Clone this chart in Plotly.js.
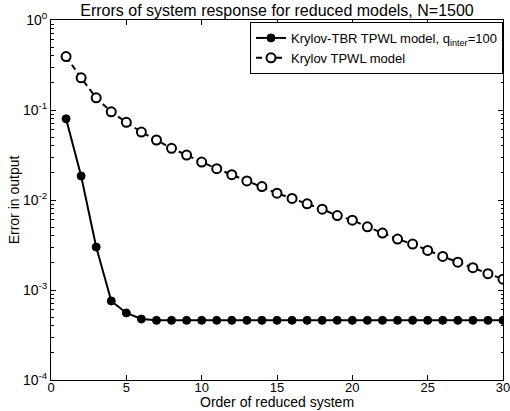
<!DOCTYPE html>
<html><head><meta charset="utf-8">
<script src="https://cdn.plot.ly/plotly-3.0.1.min.js"></script>
<style>html,body{margin:0;padding:0;background:#fff;}</style>
</head><body><div id="chart" style="width:510px;height:411px;"></div>
<script>
const order = [1,2,3,4,5,6,7,8,9,10,11,12,13,14,15,16,17,18,19,20,21,22,23,24,25,26,27,28,29,30];
const errKrylovTBR = [0.0798,0.0185,0.0030,0.000755,0.000556,0.000476,0.00046,0.00046,0.00046,0.00046,
  0.00046,0.00046,0.00046,0.00046,0.00046,0.00046,0.00046,0.00046,0.00046,0.00046,
  0.00046,0.00046,0.00046,0.00046,0.00046,0.00046,0.00046,0.00046,0.00046,0.00046];
const errKrylov = [0.392,0.2275,0.1365,0.0955,0.0729,0.0569,0.0464,0.0375,0.0316,0.0264,
  0.0223,0.0191,0.0163,0.0141,0.0119,0.0104,0.00906,0.00791,0.00671,0.00597,
  0.00503,0.00429,0.00368,0.00324,0.00275,0.00236,0.00204,0.00177,0.00152,0.00132];
const seriesNames = ['Krylov-TBR TPWL model, q<sub>inter</sub>=100','Krylov TPWL model'];
const xTickVals = [0,5,10,15,20,25,30];
const yTickVals = [1,0.1,0.01,0.001,0.0001];
const yTickText = ['10<sup>0</sup>','10<sup>-1</sup>','10<sup>-2</sup>','10<sup>-3</sup>','10<sup>-4</sup>'];

const minorVals = [];
for (let k = -4; k < 0; k++) for (let m = 2; m < 10; m++) minorVals.push(m * Math.pow(10, k));

const font = {family: 'Liberation Sans, Arial, Helvetica, sans-serif', color: '#000', size: 14};

const traces = [
  {x: order, y: errKrylovTBR, name: seriesNames[0], type: 'scatter', mode: 'lines+markers',
   line: {color: '#000', width: 2},
   marker: {symbol: 'circle', size: 8, color: '#000', line: {color: '#000', width: 1}}},
  {x: order, y: errKrylov, name: seriesNames[1], type: 'scatter', mode: 'lines+markers',
   line: {color: '#000', width: 2, dash: '6px,4px'},
   marker: {symbol: 'circle', size: 9, color: '#fff', line: {color: '#000', width: 2}}}
];

const layout = {
  width: 510, height: 411,
  margin: {l: 51, r: 7, t: 20, b: 31, pad: 0},
  paper_bgcolor: '#fff', plot_bgcolor: '#fff',
  font: font,
  title: {text: 'Errors of system response for reduced models, N=1500', font: {size: 16, color: '#000', family: font.family},
          x: 0.5, xref: 'paper', y: 1 - 10/411, yref: 'container', yanchor: 'middle'},
  xaxis: {range: [0, 30], tickvals: xTickVals, ticks: 'inside', ticklen: 5, tickcolor: '#000',
          showline: true, linecolor: '#000', linewidth: 1, mirror: 'ticks', showgrid: false, zeroline: false,
          ticklabeloverflow: 'allow', ticklabelstandoff: -5, tickfont: {size: 13}},
  yaxis: {type: 'log', range: [-4, 0], tickvals: yTickVals, ticktext: yTickText, ticks: 'inside', ticklen: 5,
          tickcolor: '#000', showline: true, linecolor: '#000', linewidth: 1, mirror: 'ticks', showgrid: false,
          zeroline: false, tickfont: {size: 14}, ticklabeloverflow: 'allow',
          minor: {tickvals: minorVals, ticks: 'inside', ticklen: 2.5, tickcolor: '#000', showgrid: false},
          title: {text: 'Error in output', font: {size: 14}, standoff: 0}},
  annotations: [{text: 'Order of reduced system', xref: 'paper', x: 0.5, yref: 'paper', y: -(403 - 380.5) / 360.5,
                 yanchor: 'middle', xanchor: 'center', showarrow: false, font: {size: 14}}],
  legend: {x: 1, xanchor: 'right', y: 0.9945, yanchor: 'top', xref: 'paper', yref: 'paper',
           bgcolor: '#fff', bordercolor: '#000', borderwidth: 1, font: {size: 13},
           tracegroupgap: 0, itemwidth: 30},
  showlegend: true
};

Plotly.newPlot('chart', traces, layout, {displayModeBar: false, staticPlot: true});
</script></body></html>
